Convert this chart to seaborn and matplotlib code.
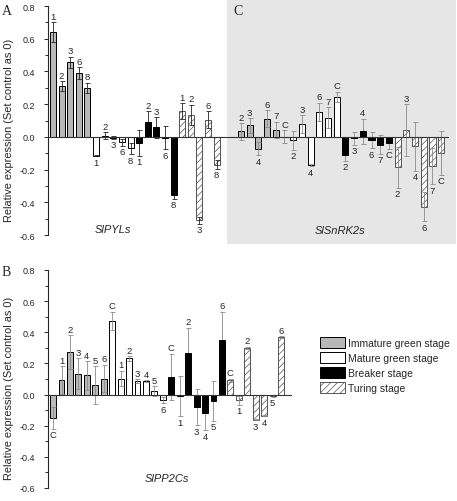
import numpy as np
import pandas as pd
import matplotlib
matplotlib.use("Agg")
import matplotlib.pyplot as plt
import matplotlib.patches as mpatches
import seaborn as sns

# ---------------- DATA ---------------- #
stages = ['Immature green stage', 'Mature green stage', 'Breaker stage', 'Turing stage']

# A: SlPYLs
a_genes = ['1', '2', '3', '6', '8']
a_vals = [0.64, 0.31, 0.455, 0.39, 0.30,
          -0.115, 0.008, -0.004, -0.034, -0.071,
          -0.038, 0.092, 0.058, -0.005, -0.357,
          0.157, 0.135, -0.51, 0.106, -0.169]
a_err = [0.06, 0.03, 0.036, 0.037, 0.03,
         0.004, 0.02, 0.008, 0.022, 0.035,
         0.078, 0.065, 0.063, 0.07, 0.02,
         0.05, 0.062, 0.02, 0.05, 0.025]

# C: SlSnRK2s
c_genes = ['2', '3', '4', '6', '7', 'C']
c_vals = [0.033, 0.07, -0.073, 0.112, 0.043, 0.0,
          -0.022, 0.078, -0.173, 0.155, 0.118, 0.245,
          -0.11, -0.01, 0.033, -0.02, -0.047, -0.037,
          -0.186, 0.04, -0.057, -0.427, -0.18, -0.098]
c_err = [0.052, 0.045, 0.04, 0.05, 0.05, 0.04,
         0.056, 0.053, 0.008, 0.055, 0.065, 0.03,
         0.035, 0.04, 0.077, 0.05, 0.057, 0.036,
         0.126, 0.16, 0.15, 0.09, 0.11, 0.135]

# B: SlPP2Cs
b_genes = ['C', '1', '2', '3', '4', '5', '6']
b_vals = [-0.148, 0.092, 0.273, 0.135, 0.123, 0.062, 0.103,
          0.472, 0.103, 0.232, 0.086, 0.086, 0.023, -0.035,
          0.112, -0.01, 0.27, -0.08, -0.12, -0.039, 0.351,
          0.092, -0.037, 0.30, -0.161, -0.135, -0.01, 0.37]
b_err = [0.07, 0.09, 0.11, 0.097, 0.092, 0.122, 0.088,
         0.06, 0.05, 0.014, 0.012, 0.006, 0.032, 0.02,
         0.15, 0.13, 0.16, 0.118, 0.11, 0.128, 0.18,
         0.01, 0.03, 0.008, 0.005, 0.005, 0.005, 0.006]

palette = {'Immature green stage': '#b8b8b8', 'Mature green stage': 'white',
           'Breaker stage': 'black', 'Turing stage': 'white'}

sns.set_style('ticks')
plt.rcParams['font.family'] = ['Liberation Sans', 'DejaVu Sans']
plt.rcParams['hatch.linewidth'] = 0.5

W, H = 457, 502
fig = plt.figure(figsize=(W / 100, H / 100), dpi=100)


def px(x0, y0, x1, y1):
    # pixel box -> figure fraction rect
    return [x0 / W, 1 - y1 / H, (x1 - x0) / W, (y1 - y0) / H]


# grey panel behind C
fig.patches.append(mpatches.Rectangle((227 / W, 1 - 245 / H), (456 - 227) / W, 245 / H,
                                      transform=fig.transFigure, facecolor='#e6e6e6',
                                      edgecolor='none', zorder=-10))


def panel(ax, genes, vals, errs, xlim, ecolor, show_y=True):
    n = len(vals)
    df = pd.DataFrame({'pos': np.arange(n), 'value': vals, 'err': errs,
                       'gene': genes * 4,
                       'stage': np.repeat(stages, len(genes))})
    sns.barplot(data=df, x='pos', y='value', hue='stage', hue_order=stages,
                palette=palette, dodge=False, width=0.7, errorbar=None,
                edgecolor='black', linewidth=0.7, legend=False, ax=ax, zorder=2)
    for p in ax.containers[3]:
        p.set_hatch('/////')
        p.set_edgecolor('#555555')
    for st in stages:
        sub = df[df['stage'] == st]
        ax.errorbar(sub['pos'], sub['value'], yerr=sub['err'], fmt='none',
                    ecolor=ecolor, elinewidth=0.6, capsize=1.8, capthick=0.6,
                    zorder=1 if st == 'Breaker stage' else 3)
    for _, r in df.iterrows():
        if r['value'] >= 0:
            ax.annotate(r['gene'], (r['pos'], r['value'] + r['err']), xytext=(0, 1),
                        textcoords='offset points', ha='center', va='bottom', fontsize=6.8)
        else:
            ax.annotate(r['gene'], (r['pos'], r['value'] - r['err']), xytext=(0, -1),
                        textcoords='offset points', ha='center', va='top', fontsize=6.8)
    ax.axhline(0, color='#333333', lw=0.8, zorder=4)
    ax.set_xlim(*xlim)
    ax.set_ylim(-0.6, 0.8)
    ax.set_xticks([])
    ax.set_xlabel('')
    ax.set_ylabel('')
    ax.set_facecolor('none')
    for s in ['top', 'right', 'bottom']:
        ax.spines[s].set_visible(False)
    if show_y:
        ax.set_yticks(np.arange(-0.6, 0.81, 0.2))
        ax.set_yticks(np.arange(-0.5, 0.8, 0.2), minor=True)
        ax.set_yticklabels([f'{v:.1f}' for v in np.arange(-0.6, 0.81, 0.2)], fontsize=6.5)
        ax.tick_params(axis='y', which='major', length=3, width=0.7, pad=6)
        ax.tick_params(axis='y', which='minor', length=2, width=0.7)
        ax.spines['left'].set_linewidth(0.8)
    else:
        ax.spines['left'].set_visible(False)
        ax.set_yticks([])


axA = fig.add_axes(px(48, 7, 227, 236))
panel(axA, a_genes, a_vals, a_err, (-0.58, 20.2), '#222222')
axC = fig.add_axes(px(227, 7, 449, 236))
panel(axC, c_genes, c_vals, c_err, (-1.6, 23.9), '#8a8a8a', show_y=False)
axB = fig.add_axes(px(48, 271, 292, 489))
panel(axB, b_genes, b_vals, b_err, (-0.6, 28.3), '#8a8a8a')

ylab = 'Relative expression (Set control as 0)'
fig.text(9 / W, 1 - 130 / H, ylab, rotation=90, ha='center', va='center', fontsize=7.9)
fig.text(9 / W, 1 - 388 / H, ylab, rotation=90, ha='center', va='center', fontsize=7.9)

fig.text(113 / W, 1 - 230 / H, 'SlPYLs', style='italic', ha='center', va='center', fontsize=8)
fig.text(340 / W, 1 - 231 / H, 'SlSnRK2s', style='italic', ha='center', va='center', fontsize=8)
fig.text(167 / W, 1 - 479 / H, 'SlPP2Cs', style='italic', ha='center', va='center', fontsize=8)

for lab, x, y in [('A', 2, 15), ('C', 233, 15), ('B', 2, 276)]:
    fig.text(x / W, 1 - y / H, lab, family='Liberation Serif', fontsize=10, va='baseline')

handles = [mpatches.Patch(facecolor=palette[s], edgecolor='#555555' if s == 'Turing stage' else 'black',
                          linewidth=0.7, hatch='/////' if s == 'Turing stage' else None)
           for s in stages]
fig.legend(handles, stages, loc='upper left', bbox_to_anchor=(316 / W, 1 - 334 / H),
           frameon=False, fontsize=7.5, handlelength=2.4, handleheight=1.2,
           labelspacing=0.4, handletextpad=0.3, borderaxespad=0)

fig.savefig('out.png', dpi=100)
